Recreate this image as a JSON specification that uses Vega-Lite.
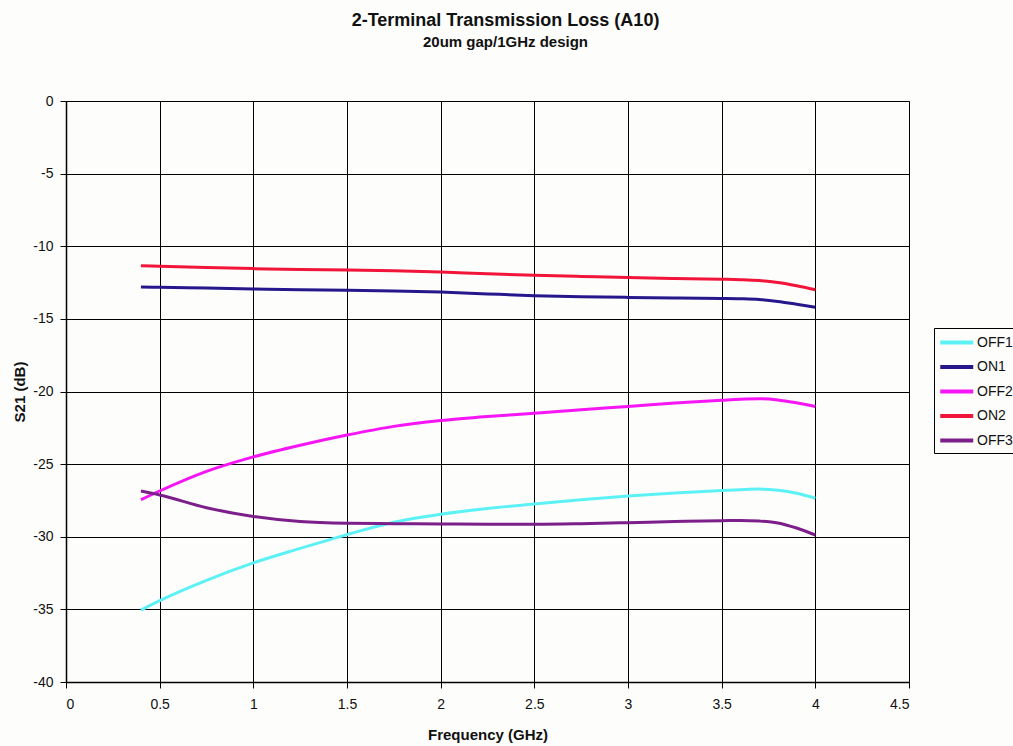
{
  "$schema": "https://vega.github.io/schema/vega-lite/v6.json",
  "width": 843,
  "height": 581,
  "autosize": {"type": "none"},
  "padding": {"left": 66, "top": 101, "right": 104, "bottom": 64},
  "background": "#fdfdfb",
  "title": {
    "text": "2-Terminal Transmission Loss (A10)",
    "subtitle": "20um gap/1GHz design",
    "anchor": "middle",
    "dx": 18,
    "offset": 44,
    "font": "Liberation Sans",
    "fontSize": 18,
    "fontWeight": "bold",
    "color": "#111111",
    "subtitleFont": "Liberation Sans",
    "subtitleFontSize": 15,
    "subtitleFontWeight": "bold",
    "subtitleColor": "#111111",
    "subtitlePadding": 5
  },
  "config": {
    "view": {"stroke": "#888888", "strokeWidth": 1},
    "axis": {
      "labelFont": "Liberation Sans",
      "labelFontSize": 14,
      "labelColor": "#111111",
      "titleFont": "Liberation Sans",
      "titleFontSize": 15,
      "titleFontWeight": "bold",
      "titleColor": "#111111",
      "gridColor": "#000000",
      "gridOpacity": 1,
      "gridWidth": 1,
      "domainColor": "#000000",
      "domainWidth": 1.5,
      "tickColor": "#000000",
      "tickSize": 6
    }
  },
  "data": {
    "values": [
      {"series": "OFF1", "f": 0.4, "s21": -35.05},
      {"series": "OFF1", "f": 0.5, "s21": -34.4},
      {"series": "OFF1", "f": 0.75, "s21": -33.0},
      {"series": "OFF1", "f": 1.0, "s21": -31.8},
      {"series": "OFF1", "f": 1.25, "s21": -30.8},
      {"series": "OFF1", "f": 1.5, "s21": -29.85},
      {"series": "OFF1", "f": 1.75, "s21": -29.0},
      {"series": "OFF1", "f": 2.0, "s21": -28.45},
      {"series": "OFF1", "f": 2.25, "s21": -28.05},
      {"series": "OFF1", "f": 2.5, "s21": -27.75},
      {"series": "OFF1", "f": 2.75, "s21": -27.45},
      {"series": "OFF1", "f": 3.0, "s21": -27.2},
      {"series": "OFF1", "f": 3.25, "s21": -26.98},
      {"series": "OFF1", "f": 3.5, "s21": -26.82},
      {"series": "OFF1", "f": 3.6, "s21": -26.76},
      {"series": "OFF1", "f": 3.7, "s21": -26.72},
      {"series": "OFF1", "f": 3.8, "s21": -26.8},
      {"series": "OFF1", "f": 3.9, "s21": -27.0},
      {"series": "OFF1", "f": 4.0, "s21": -27.35},
      {"series": "ON1", "f": 0.4, "s21": -12.8},
      {"series": "ON1", "f": 0.5, "s21": -12.83},
      {"series": "ON1", "f": 0.75, "s21": -12.88},
      {"series": "ON1", "f": 1.0, "s21": -12.94},
      {"series": "ON1", "f": 1.25, "s21": -12.99},
      {"series": "ON1", "f": 1.5, "s21": -13.03},
      {"series": "ON1", "f": 1.75, "s21": -13.08},
      {"series": "ON1", "f": 2.0, "s21": -13.15},
      {"series": "ON1", "f": 2.25, "s21": -13.28},
      {"series": "ON1", "f": 2.5, "s21": -13.4},
      {"series": "ON1", "f": 2.75, "s21": -13.47},
      {"series": "ON1", "f": 3.0, "s21": -13.52},
      {"series": "ON1", "f": 3.25, "s21": -13.56},
      {"series": "ON1", "f": 3.5, "s21": -13.59},
      {"series": "ON1", "f": 3.6, "s21": -13.61},
      {"series": "ON1", "f": 3.7, "s21": -13.66},
      {"series": "ON1", "f": 3.8, "s21": -13.8},
      {"series": "ON1", "f": 3.9, "s21": -14.0},
      {"series": "ON1", "f": 4.0, "s21": -14.2},
      {"series": "OFF2", "f": 0.4, "s21": -27.45},
      {"series": "OFF2", "f": 0.5, "s21": -26.85},
      {"series": "OFF2", "f": 0.75, "s21": -25.5},
      {"series": "OFF2", "f": 1.0, "s21": -24.5},
      {"series": "OFF2", "f": 1.25, "s21": -23.7},
      {"series": "OFF2", "f": 1.5, "s21": -23.0},
      {"series": "OFF2", "f": 1.75, "s21": -22.4},
      {"series": "OFF2", "f": 2.0, "s21": -22.0},
      {"series": "OFF2", "f": 2.25, "s21": -21.72},
      {"series": "OFF2", "f": 2.5, "s21": -21.5},
      {"series": "OFF2", "f": 2.75, "s21": -21.25},
      {"series": "OFF2", "f": 3.0, "s21": -21.03},
      {"series": "OFF2", "f": 3.25, "s21": -20.8},
      {"series": "OFF2", "f": 3.5, "s21": -20.6},
      {"series": "OFF2", "f": 3.6, "s21": -20.53},
      {"series": "OFF2", "f": 3.7, "s21": -20.5},
      {"series": "OFF2", "f": 3.8, "s21": -20.58},
      {"series": "OFF2", "f": 3.9, "s21": -20.78},
      {"series": "OFF2", "f": 4.0, "s21": -21.03},
      {"series": "ON2", "f": 0.4, "s21": -11.34},
      {"series": "ON2", "f": 0.5, "s21": -11.38},
      {"series": "ON2", "f": 0.75, "s21": -11.47},
      {"series": "ON2", "f": 1.0, "s21": -11.54},
      {"series": "ON2", "f": 1.25, "s21": -11.6},
      {"series": "ON2", "f": 1.5, "s21": -11.63},
      {"series": "ON2", "f": 1.75, "s21": -11.68},
      {"series": "ON2", "f": 2.0, "s21": -11.77},
      {"series": "ON2", "f": 2.25, "s21": -11.9},
      {"series": "ON2", "f": 2.5, "s21": -12.0},
      {"series": "ON2", "f": 2.75, "s21": -12.08},
      {"series": "ON2", "f": 3.0, "s21": -12.16},
      {"series": "ON2", "f": 3.25, "s21": -12.22},
      {"series": "ON2", "f": 3.5, "s21": -12.27},
      {"series": "ON2", "f": 3.6, "s21": -12.3},
      {"series": "ON2", "f": 3.7, "s21": -12.36},
      {"series": "ON2", "f": 3.8, "s21": -12.5},
      {"series": "ON2", "f": 3.9, "s21": -12.72},
      {"series": "ON2", "f": 4.0, "s21": -12.99},
      {"series": "OFF3", "f": 0.4, "s21": -26.85},
      {"series": "OFF3", "f": 0.5, "s21": -27.12},
      {"series": "OFF3", "f": 0.75, "s21": -28.0},
      {"series": "OFF3", "f": 1.0, "s21": -28.6},
      {"series": "OFF3", "f": 1.25, "s21": -28.95},
      {"series": "OFF3", "f": 1.5, "s21": -29.07},
      {"series": "OFF3", "f": 1.75, "s21": -29.1},
      {"series": "OFF3", "f": 2.0, "s21": -29.12},
      {"series": "OFF3", "f": 2.25, "s21": -29.14},
      {"series": "OFF3", "f": 2.5, "s21": -29.14},
      {"series": "OFF3", "f": 2.75, "s21": -29.1},
      {"series": "OFF3", "f": 3.0, "s21": -29.03},
      {"series": "OFF3", "f": 3.25, "s21": -28.95},
      {"series": "OFF3", "f": 3.5, "s21": -28.89},
      {"series": "OFF3", "f": 3.6, "s21": -28.88},
      {"series": "OFF3", "f": 3.7, "s21": -28.92},
      {"series": "OFF3", "f": 3.8, "s21": -29.05},
      {"series": "OFF3", "f": 3.9, "s21": -29.4},
      {"series": "OFF3", "f": 4.0, "s21": -29.88}
    ]
  },
  "mark": {"type": "line", "strokeWidth": 3, "interpolate": "monotone"},
  "encoding": {
    "x": {
      "field": "f",
      "type": "quantitative",
      "title": "Frequency (GHz)",
      "scale": {"domain": [0, 4.5], "nice": false, "zero": false},
      "axis": {
        "values": [0, 0.5, 1, 1.5, 2, 2.5, 3, 3.5, 4, 4.5],
        "labelExpr": "toString(datum.value)",
        "labelPadding": 9,
        "titlePadding": 16
      }
    },
    "y": {
      "field": "s21",
      "type": "quantitative",
      "title": "S21 (dB)",
      "scale": {"domain": [-40, 0], "nice": false, "zero": false},
      "axis": {
        "values": [0, -5, -10, -15, -20, -25, -30, -35, -40],
        "labelExpr": "toString(datum.value)",
        "labelPadding": 7,
        "titlePadding": 5
      }
    },
    "color": {
      "field": "series",
      "type": "nominal",
      "scale": {
        "domain": ["OFF1", "ON1", "OFF2", "ON2", "OFF3"],
        "range": ["#5cf2f5", "#26188c", "#f515f5", "#f2153a", "#7d1f8a"]
      },
      "legend": {
        "title": null,
        "orient": "none",
        "legendX": 868,
        "legendY": 227,
        "symbolType": "M-1,0H3",
        "symbolSize": 272,
        "symbolStrokeWidth": 4,
        "labelFont": "Liberation Sans",
        "labelFontSize": 14,
        "labelColor": "#111111",
        "labelOffset": 18,
        "rowPadding": 5.5,
        "padding": 4,
        "strokeColor": "#000000",
        "fillColor": "#fdfdfb"
      }
    }
  }
}
